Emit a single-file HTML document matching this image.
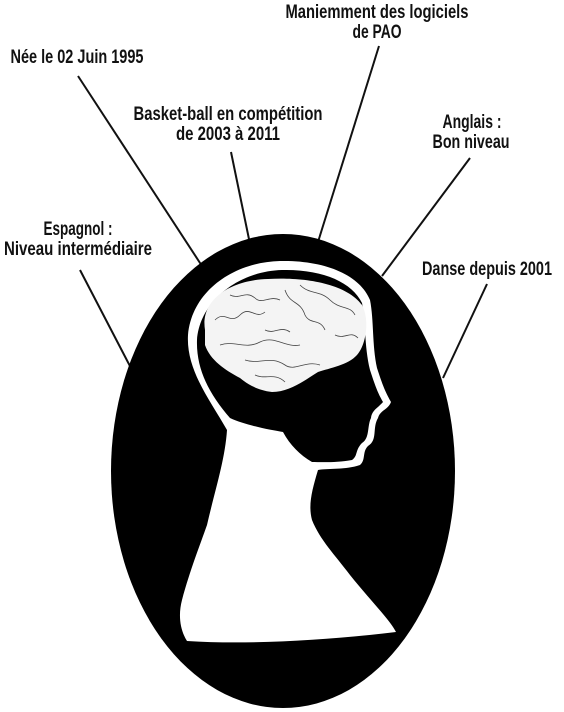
<!DOCTYPE html>
<html><head><meta charset="utf-8">
<style>
html,body{margin:0;padding:0;background:#fff;width:564px;height:712px;overflow:hidden}
svg text{font-family:"Liberation Sans",sans-serif;font-weight:bold;font-size:19px;fill:#111;text-anchor:middle}
</style></head>
<body>
<svg width="564" height="712" viewBox="0 0 564 712">
  <g stroke="#111" stroke-width="2" fill="none">
    <line x1="78" y1="76" x2="202" y2="266"/>
    <line x1="231" y1="152" x2="250" y2="244"/>
    <line x1="379" y1="46" x2="318" y2="242"/>
    <line x1="470" y1="158" x2="382" y2="276"/>
    <line x1="80" y1="270" x2="132" y2="370"/>
    <line x1="487" y1="284" x2="443" y2="378"/>
  </g>
  <ellipse cx="283" cy="471" rx="172" ry="237" fill="#000"/>
  <path fill="#fff"
    d="M227,430 C210,400 186,370 188,335 C192,290 235,262 280,261 C325,260 360,275 370,300 C374,320 372,345 377,368 C381,380 384,390 391,402 C388,410 380,410 378,418 C372,428 378,440 368,446 C362,452 366,460 360,465 C345,470 330,468 318,470 C312,490 308,505 312,520 C320,540 335,555 350,575 C370,600 390,620 396,632 C330,640 250,645 187,641 C180,630 178,615 182,600 C190,570 200,545 207,525 C215,490 225,460 227,430 Z"/>
  <path fill="#000"
    d="M230,418 C210,395 196,370 197,340 C200,300 240,271 282,270 C322,269 352,282 362,303 C366,322 364,345 370,370 C374,382 377,392 383,402 C378,408 372,410 371,418 C367,426 370,438 362,443 C355,450 358,456 352,460 C335,463 320,462 312,462 C300,455 290,445 283,432 C270,430 245,425 230,418 Z"/>
  <g>
    <path fill="#f4f4f4" d="M205,330 C200,300 230,280 268,279 C300,277 345,282 362,305 C370,320 366,345 357,355 C348,365 330,368 318,372 C305,380 290,392 272,392 C255,390 245,382 240,378 C225,370 210,360 205,345 Z"/>
    <g stroke="#444" stroke-width="0.8" fill="none">
      <path d="M215,320 C225,310 230,325 240,315 C250,305 255,320 265,312"/>
      <path d="M230,295 C240,300 245,290 255,298 C262,305 270,295 280,300"/>
      <path d="M285,290 C290,305 300,300 305,315 C310,325 320,318 325,330"/>
      <path d="M300,285 C310,295 320,290 330,300 C340,310 350,305 355,315"/>
      <path d="M220,345 C235,340 245,350 260,342 C275,335 285,348 300,345"/>
      <path d="M245,360 C260,365 270,355 285,365 C295,372 305,360 320,365"/>
      <path d="M265,330 C275,335 280,325 290,332 M335,335 C345,340 350,330 358,338"/>
      <path d="M255,375 C265,380 275,372 285,382"/>
    </g>
  </g>
  <g>
    <text x="377" y="18" textLength="183" lengthAdjust="spacingAndGlyphs">Maniemment des logiciels</text>
    <text x="377" y="38" textLength="49" lengthAdjust="spacingAndGlyphs">de PAO</text>
    <text x="77" y="63" textLength="133" lengthAdjust="spacingAndGlyphs">Née le 02 Juin 1995</text>
    <text x="228" y="120" textLength="189" lengthAdjust="spacingAndGlyphs">Basket-ball en compétition</text>
    <text x="228" y="140" textLength="104" lengthAdjust="spacingAndGlyphs">de 2003 à 2011</text>
    <text x="472" y="128" textLength="59" lengthAdjust="spacingAndGlyphs">Anglais :</text>
    <text x="471" y="148" textLength="77" lengthAdjust="spacingAndGlyphs">Bon niveau</text>
    <text x="78" y="235" textLength="69" lengthAdjust="spacingAndGlyphs">Espagnol :</text>
    <text x="78" y="255" textLength="148" lengthAdjust="spacingAndGlyphs">Niveau intermédiaire</text>
    <text x="487" y="275" textLength="130" lengthAdjust="spacingAndGlyphs">Danse depuis 2001</text>
  </g>
</svg>
</body></html>
